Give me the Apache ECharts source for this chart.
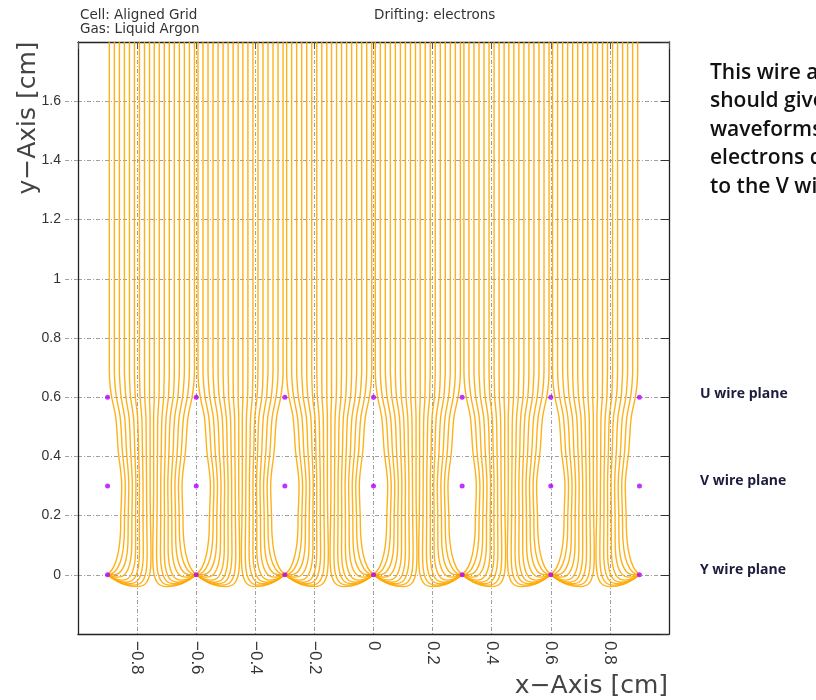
<!DOCTYPE html>
<html>
<head>
<meta charset="utf-8">
<script src="https://cdn.jsdelivr.net/npm/echarts@6/dist/echarts.min.js"></script>
<style>
  html, body { margin: 0; padding: 0; background: #ffffff; }
  #chart { width: 816px; height: 700px; }
</style>
</head>
<body>
<div id="chart"></div>
<script>
// Wire positions in the cell (cm)
const wireX = [-0.9, -0.6, -0.3, 0, 0.3, 0.6, 0.9];
const planeY = [0.6, 0.3, 0.0];
const planeNames = ['U wire plane', 'V wire plane', 'Y wire plane'];

// Axis ticks
const xTicks = [-0.8, -0.6, -0.4, -0.2, 0, 0.2, 0.4, 0.6, 0.8];
const yTicks = [0, 0.2, 0.4, 0.6, 0.8, 1, 1.2, 1.4, 1.6];

// Electron drift paths for one half cell, as [offset from collecting Y wire (cm), y (cm)].
// Line 0 starts next to the wire, line 8 near the middle of the cell.
const halfCellPaths = [
  [[0.006,1.8],[0.006,0.69],[0.008,0.645],[0.014,0.6],[0.028,0.53],[0.036,0.42],[0.048,0.3],[0.045,0.2],[0.043,0.13],[0.035,0.07],[0.020,0.025],[0,0]],
  [[0.023,1.8],[0.023,0.69],[0.025,0.645],[0.030,0.6],[0.043,0.53],[0.050,0.42],[0.060,0.3],[0.0575,0.2],[0.056,0.12],[0.048,0.06],[0.032,0.02],[0.015,0.004],[0,0]],
  [[0.040,1.8],[0.040,0.69],[0.042,0.645],[0.046,0.6],[0.058,0.53],[0.064,0.42],[0.072,0.3],[0.070,0.2],[0.069,0.11],[0.062,0.05],[0.045,0.012],[0.020,0.0],[0,0]],
  [[0.057,1.8],[0.057,0.69],[0.059,0.645],[0.062,0.6],[0.073,0.53],[0.078,0.42],[0.084,0.3],[0.0825,0.2],[0.082,0.1],[0.076,0.04],[0.060,0.003],[0.035,-0.008],[0.015,-0.005],[0,0]],
  [[0.074,1.8],[0.074,0.69],[0.075,0.645],[0.078,0.6],[0.088,0.53],[0.092,0.42],[0.096,0.3],[0.095,0.2],[0.095,0.09],[0.090,0.03],[0.075,-0.007],[0.050,-0.018],[0.022,-0.012],[0,0]],
  [[0.091,1.8],[0.091,0.69],[0.092,0.645],[0.094,0.6],[0.102,0.53],[0.105,0.42],[0.108,0.3],[0.1075,0.2],[0.108,0.085],[0.104,0.025],[0.090,-0.013],[0.062,-0.025],[0.030,-0.018],[0,0]],
  [[0.108,1.8],[0.108,0.69],[0.109,0.645],[0.110,0.6],[0.116,0.53],[0.118,0.42],[0.120,0.3],[0.120,0.2],[0.121,0.08],[0.117,0.02],[0.103,-0.018],[0.075,-0.03],[0.038,-0.024],[0,0]],
  [[0.125,1.8],[0.125,0.69],[0.126,0.6],[0.130,0.53],[0.131,0.42],[0.132,0.3],[0.1325,0.2],[0.134,0.075],[0.131,0.015],[0.117,-0.023],[0.088,-0.035],[0.045,-0.028],[0,0]],
  [[0.142,1.8],[0.142,0.69],[0.142,0.6],[0.144,0.53],[0.144,0.42],[0.144,0.3],[0.145,0.2],[0.147,0.07],[0.144,0.01],[0.130,-0.028],[0.100,-0.04],[0.055,-0.032],[0,0]]
];

// Side notes
const noteLines = ['This wire arrangement', 'should give bipolar', 'waveforms as the', 'electrons drift close', 'to the V wires'];

const FONT = '"Liberation Sans", Arial, sans-serif';
const TITLE_FONT = '"DejaVu Sans", sans-serif';
const driftStyle = { color: '#ffa800', width: 1.4, opacity: 0.9 };

// Each cell between neighbouring wires holds two half cells, mirrored about its centre.
const driftSeries = [];
for (let g = 0; g < wireX.length - 1; g++) {
  const left = wireX[g], right = wireX[g + 1];
  halfCellPaths.forEach(path => {
    driftSeries.push({
      type: 'line', xAxisIndex: 0, yAxisIndex: 0,
      data: path.map(p => [left + p[0], p[1]]),
      smooth: 0.35, showSymbol: false, silent: true, lineStyle: driftStyle, z: 2
    });
    driftSeries.push({
      type: 'line', xAxisIndex: 0, yAxisIndex: 0,
      data: path.map(p => [right - p[0], p[1]]),
      smooth: 0.35, showSymbol: false, silent: true, lineStyle: driftStyle, z: 2
    });
  });
}

const wirePoints = [];
planeY.forEach(y => wireX.forEach(x => wirePoints.push([x, y])));

const fmt = v => {
  const r = Number(v.toFixed(1));
  return (r < 0 ? '\u2212' : '') + String(Math.abs(r));
};

const gridLine = { show: true, lineStyle: { color: '#a0a0a0', width: 1, type: [4, 2, 1, 2] } };

const chart = echarts.init(document.getElementById('chart'), null, { renderer: 'canvas' });
chart.setOption({
  animation: false,
  backgroundColor: '#ffffff',
  grid: { left: 78, right: 147, top: 42, bottom: 66, containLabel: false },
  xAxis: [
    {
      type: 'value', min: -1, max: 1, interval: 0.2, position: 'bottom',
      axisLine: { show: true, onZero: false, lineStyle: { color: '#222', width: 1.3 } },
      axisTick: { show: false },
      axisLabel: {
        rotate: -90, margin: 7, color: '#333', fontSize: 17, fontFamily: FONT,
        showMinLabel: false, showMaxLabel: false,
        formatter: v => xTicks.some(t => Math.abs(t - v) < 1e-6) ? fmt(v) : ''
      },
      splitLine: gridLine
    },
    {
      type: 'value', min: -1, max: 1, interval: 0.2, position: 'top',
      axisLine: { show: true, onZero: false, lineStyle: { color: '#222', width: 1.3 } },
      axisTick: { show: true, inside: true, length: 7, lineStyle: { color: '#555', width: 1 } },
      axisLabel: { show: false }, splitLine: { show: false }
    }
  ],
  yAxis: [
    {
      type: 'value', min: -0.2, max: 1.8, interval: 0.2, position: 'left',
      axisLine: { show: true, onZero: false, lineStyle: { color: '#222', width: 1.3 } },
      axisTick: { show: true, inside: false, length: 14, lineStyle: { color: '#a0a0a0', width: 1, type: [4, 2, 1, 2] } },
      axisLabel: {
        margin: 17, color: '#333', fontSize: 14, fontFamily: FONT,
        showMinLabel: false, showMaxLabel: false,
        formatter: v => yTicks.some(t => Math.abs(t - v) < 1e-6) ? fmt(v) : ''
      },
      splitLine: gridLine
    },
    {
      type: 'value', min: -0.2, max: 1.8, interval: 0.2, position: 'right',
      axisLine: { show: true, onZero: false, lineStyle: { color: '#222', width: 1.3 } },
      axisTick: { show: true, inside: true, length: 8, lineStyle: { color: '#333', width: 1 } },
      axisLabel: { show: false }, splitLine: { show: false }
    }
  ],
  series: driftSeries.concat([
    {
      type: 'scatter', xAxisIndex: 0, yAxisIndex: 0, data: wirePoints,
      symbol: 'circle', symbolSize: 5, silent: true, z: 5,
      itemStyle: { color: '#b000ff' }
    }
  ]),
  graphic: [
    { type: 'text', x: 80, y: 15, style: { text: 'Cell: Aligned Grid', font: '13.5px ' + TITLE_FONT, fill: '#333', verticalAlign: 'middle' } },
    { type: 'text', x: 80, y: 29, style: { text: 'Gas: Liquid Argon', font: '13.5px ' + TITLE_FONT, fill: '#333', verticalAlign: 'middle' } },
    { type: 'text', x: 374, y: 15, style: { text: 'Drifting: electrons', font: '13.5px ' + TITLE_FONT, fill: '#333', verticalAlign: 'middle' } },
    {
      type: 'text', x: 28, y: 118, rotation: Math.PI / 2,
      style: { text: 'y\u2212Axis [cm]', font: '25px ' + TITLE_FONT, fill: '#444', align: 'center', verticalAlign: 'middle' }
    },
    {
      type: 'text', x: 668, y: 686,
      style: { text: 'x\u2212Axis [cm]', font: '25px ' + TITLE_FONT, fill: '#444', align: 'right', verticalAlign: 'middle' }
    }
  ].concat(noteLines.map((t, i) => ({
    type: 'text', x: 710, y: 73 + i * 28.5,
    style: { text: t, font: '600 21px "Open Sans", sans-serif', fill: '#111', align: 'left', verticalAlign: 'middle' }
  }))).concat(planeNames.map((t, i) => ({
    type: 'text', x: 700, y: [394, 481, 570][i],
    style: { text: t, font: 'bold 14px "Open Sans", sans-serif', fill: '#1c1c3c', align: 'left', verticalAlign: 'middle' }
  })))
});
</script>
</body>
</html>
